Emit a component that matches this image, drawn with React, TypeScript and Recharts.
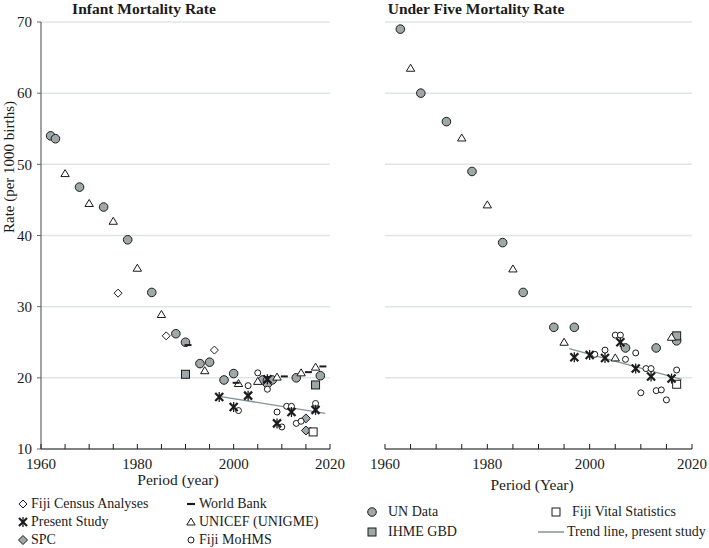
import { CartesianGrid, Scatter, ScatterChart, XAxis, YAxis } from 'recharts';

type Pt = { year: number; rate: number };
const pts = (rows: number[][]): Pt[] => rows.map(([year, rate]) => ({ year, rate }));

// ---- Infant mortality rate (left panel) ----
const imrUnData = pts([
  [1962, 54.0], [1963, 53.6], [1968, 46.8], [1973, 44.0], [1978, 39.4], [1983, 32.0],
  [1988, 26.2], [1990, 25.0], [1993, 22.0], [1995, 22.2], [1998, 19.7], [2000, 20.6],
  [2006, 19.7], [2007, 19.6], [2008, 19.7], [2013, 20.0], [2018, 20.3],
]);
const imrUnicef = pts([
  [1965, 48.7], [1970, 44.5], [1975, 42.0], [1980, 35.4], [1985, 28.9], [1994, 21.0],
  [2001, 19.2], [2005, 19.5], [2009, 20.1], [2014, 20.7], [2017, 21.5],
]);
const imrWorldBank = pts([[1990, 24.6], [2000, 19.3], [2010, 20.2], [2015, 20.8], [2018, 21.6]]);
const imrCensus = pts([[1976, 31.9], [1986, 25.9], [1996, 23.9], [2016, 12.5]]);
const imrSpc = pts([[2007, 19.0], [2015, 14.3], [2015, 12.6]]);
const imrMohms = pts([
  [2001, 15.4], [2003, 18.9], [2005, 20.7], [2007, 18.4], [2009, 15.2], [2010, 13.1],
  [2011, 16.0], [2012, 16.0], [2013, 13.6], [2014, 13.9], [2017, 16.4],
]);
const imrIhme = pts([[1990, 20.5], [2017, 19.0]]);
const imrVital = pts([[2016.5, 12.4]]);
const imrPresent = pts([
  [1997, 17.3], [2000, 15.9], [2003, 17.5], [2007, 19.8], [2009, 13.6], [2012, 15.2], [2017, 15.5],
]);
const imrTrend = pts([[1997, 17.4], [2019, 15.0]]);

// ---- Under five mortality rate (right panel) ----
const u5UnData = pts([
  [1963, 69.0], [1967, 60.0], [1972, 56.0], [1977, 49.0], [1983, 39.0], [1987, 32.0],
  [1993, 27.1], [1997, 27.1], [2007, 24.2], [2013, 24.2], [2017, 25.2],
]);
const u5Unicef = pts([
  [1965, 63.5], [1975, 53.7], [1980, 44.3], [1985, 35.3], [1995, 25.0], [2005, 22.8], [2016, 25.7],
]);
const u5Mohms = pts([
  [2001, 23.3], [2003, 23.9], [2005, 26.0], [2006, 26.0], [2007, 22.6], [2009, 23.5],
  [2010, 17.9], [2011, 21.3], [2012, 21.3], [2013, 18.2], [2014, 18.3], [2015, 16.9], [2017, 21.1],
]);
const u5Ihme = pts([[2017, 25.9]]);
const u5Vital = pts([[2017, 19.1]]);
const u5Present = pts([
  [1997, 22.9], [2000, 23.2], [2003, 22.8], [2006, 25.0], [2009, 21.3], [2012, 20.2], [2016, 19.9],
]);
const u5Trend = pts([[1996, 24.1], [2018, 19.8]]);

const yearTicks = [1960, 1965, 1970, 1975, 1980, 1985, 1990, 1995, 2000, 2005, 2010, 2015, 2020];
const rateTicks = [10, 20, 30, 40, 50, 60, 70];

const FONT = 'Liberation Serif';
const INK = '#1b1b1b';
const GRAY = '#9ea8a8';
const GRID = '#dfe6e6';
const TREND = '#7f9494';

// marker shapes
const UnCircle = (p: any) => <circle cx={p.cx} cy={p.cy} r={4.3} fill={GRAY} stroke={INK} strokeWidth={1} />;
const OpenCircle = (p: any) => <circle cx={p.cx} cy={p.cy} r={3} fill="#fff" stroke={INK} strokeWidth={1} />;
const Triangle = (p: any) => (
  <path d={`M${p.cx},${p.cy - 4} L${p.cx + 4.2},${p.cy + 3} L${p.cx - 4.2},${p.cy + 3} Z`} fill="#fff" stroke={INK} strokeWidth={1} />
);
const Diamond = (p: any) => (
  <path d={`M${p.cx},${p.cy - 4} L${p.cx + 4},${p.cy} L${p.cx},${p.cy + 4} L${p.cx - 4},${p.cy} Z`} fill="#fff" stroke={INK} strokeWidth={1} />
);
const GrayDiamond = (p: any) => (
  <path d={`M${p.cx},${p.cy - 4.5} L${p.cx + 4.5},${p.cy} L${p.cx},${p.cy + 4.5} L${p.cx - 4.5},${p.cy} Z`} fill={GRAY} stroke={INK} strokeWidth={1} />
);
const GraySquare = (p: any) => <rect x={p.cx - 4} y={p.cy - 4} width={8} height={8} fill={GRAY} stroke={INK} strokeWidth={1} />;
const OpenSquare = (p: any) => <rect x={p.cx - 4} y={p.cy - 4} width={8} height={8} fill="#fff" stroke={INK} strokeWidth={1} />;
const Dash = (p: any) => <line x1={p.cx - 1} x2={p.cx + 6} y1={p.cy} y2={p.cy} stroke={INK} strokeWidth={2} />;
const Star = (p: any) => (
  <g stroke={INK}>
    <line x1={p.cx - 4} y1={p.cy - 4} x2={p.cx + 4} y2={p.cy + 4} strokeWidth={2.2} />
    <line x1={p.cx - 4} y1={p.cy + 4} x2={p.cx + 4} y2={p.cy - 4} strokeWidth={2.2} />
    <line x1={p.cx} y1={p.cy - 5} x2={p.cx} y2={p.cy + 5} strokeWidth={1.3} />
  </g>
);
const NoDot = () => <g />;

function YearTick(props: any) {
  const { x, y, payload } = props;
  const v = payload.value as number;
  return (
    <g>
      <line x1={x} x2={x} y1={y} y2={y - 5} stroke={INK} strokeWidth={1} />
      {(v - 1960) % 20 === 0 && (
        <text x={x} y={y + 20} textAnchor="middle" fontSize={15} fontFamily={FONT} fill={INK}>
          {v}
        </text>
      )}
    </g>
  );
}

type Series = { data: Pt[]; shape: any; line?: boolean };

function Panel({
  series, width, height, margin, showY,
}: { series: Series[]; width: number; height: number; margin: any; showY: boolean }) {
  return (
    <ScatterChart width={width} height={height} margin={margin}>
      <CartesianGrid vertical={false} stroke={GRID} strokeWidth={1.5} horizontalValues={rateTicks} />
      <XAxis
        type="number"
        dataKey="year"
        domain={[1960, 2020]}
        ticks={yearTicks}
        interval={0}
        height={31}
        tickSize={0}
        tickMargin={0}
        tickLine={false}
        axisLine={{ stroke: INK, strokeWidth: 1.2 }}
        tick={<YearTick />}
        allowDataOverflow
      />
      <YAxis
        type="number"
        dataKey="rate"
        domain={[10, 70]}
        ticks={rateTicks}
        interval={0}
        width={showY ? 30 : 0}
        hide={!showY}
        tickSize={4}
        tickMargin={5}
        tickLine={{ stroke: '#666' }}
        axisLine={{ stroke: '#666', strokeWidth: 1.2 }}
        tick={{ fontSize: 15, fontFamily: FONT, fill: INK }}
        allowDataOverflow
      />
      {series.map((s, i) =>
        s.line ? (
          <Scatter key={i} data={s.data} shape={NoDot} line={{ stroke: TREND, strokeWidth: 1.3 }} isAnimationActive={false} />
        ) : (
          <Scatter key={i} data={s.data} shape={s.shape} isAnimationActive={false} />
        ),
      )}
    </ScatterChart>
  );
}

const leftSeries: Series[] = [
  { data: imrTrend, shape: NoDot, line: true },
  { data: imrUnData, shape: UnCircle },
  { data: imrIhme, shape: GraySquare },
  { data: imrUnicef, shape: Triangle },
  { data: imrWorldBank, shape: Dash },
  { data: imrCensus, shape: Diamond },
  { data: imrSpc, shape: GrayDiamond },
  { data: imrVital, shape: OpenSquare },
  { data: imrMohms, shape: OpenCircle },
  { data: imrPresent, shape: Star },
];

const rightSeries: Series[] = [
  { data: u5Trend, shape: NoDot, line: true },
  { data: u5UnData, shape: UnCircle },
  { data: u5Ihme, shape: GraySquare },
  { data: u5Unicef, shape: Triangle },
  { data: u5Vital, shape: OpenSquare },
  { data: u5Mohms, shape: OpenCircle },
  { data: u5Present, shape: Star },
];

function Icon({ shape: S, w = 12 }: { shape: any; w?: number }) {
  return (
    <svg width={w} height={12} style={{ overflow: 'visible', flex: 'none' }}>
      <S cx={w / 2} cy={6} />
    </svg>
  );
}

function LegendItem({ x, y, shape, label, gap = 3, iconW = 10 }: any) {
  return (
    <div
      style={{
        position: 'absolute', left: x, top: y - 9, height: 18, display: 'flex', alignItems: 'center',
        gap, fontSize: 14, fontFamily: FONT, color: INK, whiteSpace: 'nowrap',
      }}
    >
      <Icon shape={shape} w={iconW} />
      <span>{label}</span>
    </div>
  );
}

const LegendLine = (p: any) => <line x1={p.cx - 13} x2={p.cx + 13} y1={p.cy} y2={p.cy} stroke={TREND} strokeWidth={1.5} />;
const LegendDash = (p: any) => <line x1={p.cx - 4} x2={p.cx + 4} y1={p.cy} y2={p.cy} stroke={INK} strokeWidth={2.2} />;

const textStyle: any = { position: 'absolute', fontFamily: FONT, color: INK, whiteSpace: 'nowrap' };

export default function App() {
  return (
    <div style={{ position: 'absolute', left: 0, top: 0, width: 709, height: 548, background: '#fff', overflow: 'hidden', fontFamily: FONT }}>
      <div style={{ position: 'absolute', left: 0, top: 0 }}>
        <Panel series={leftSeries} width={352} height={480} margin={{ top: 22, right: 22, bottom: 0, left: 11 }} showY />
      </div>
      <div style={{ position: 'absolute', left: 360, top: 0 }}>
        <Panel series={rightSeries} width={349} height={480} margin={{ top: 22, right: 17, bottom: 0, left: 25 }} showY={false} />
      </div>

      <div style={{ ...textStyle, left: 144, top: 9, transform: 'translate(-50%,-50%)', fontSize: 15.5, fontWeight: 'bold' }}>
        Infant Mortality Rate
      </div>
      <div style={{ ...textStyle, left: 476, top: 9, transform: 'translate(-50%,-50%)', fontSize: 15.5, fontWeight: 'bold' }}>
        Under Five Mortality Rate
      </div>
      <div style={{ ...textStyle, left: 9, top: 167, transform: 'translate(-50%,-50%) rotate(-90deg)', fontSize: 15 }}>
        Rate (per 1000 births)
      </div>
      <div style={{ ...textStyle, left: 178, top: 480, transform: 'translate(-50%,-50%)', fontSize: 15.5 }}>
        Period (year)
      </div>
      <div style={{ ...textStyle, left: 532, top: 485, transform: 'translate(-50%,-50%)', fontSize: 15.5 }}>
        Period (Year)
      </div>

      <LegendItem x={18} y={504} shape={Diamond} label="Fiji Census Analyses" />
      <LegendItem x={18} y={522} shape={Star} label="Present Study" />
      <LegendItem x={18} y={540} shape={GrayDiamond} label="SPC" />
      <LegendItem x={186} y={504} shape={LegendDash} label="World Bank" />
      <LegendItem x={186} y={522} shape={Triangle} label="UNICEF (UNIGME)" />
      <LegendItem x={186} y={540} shape={OpenCircle} label="Fiji MoHMS" />

      <LegendItem x={367} y={512} shape={UnCircle} label="UN Data" gap={11} />
      <LegendItem x={367} y={532} shape={GraySquare} label="IHME GBD" gap={11} />
      <LegendItem x={551} y={512} shape={OpenSquare} label="Fiji Vital Statistics" gap={11} />
      <LegendItem x={538} y={532} shape={LegendLine} label="Trend line, present study" gap={3} iconW={26} />
    </div>
  );
}
